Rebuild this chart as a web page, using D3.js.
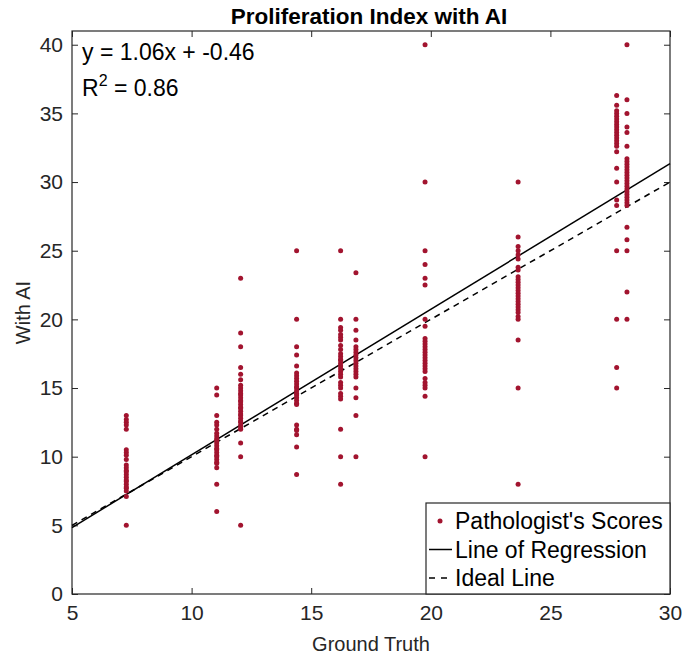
<!DOCTYPE html>
<html>
<head>
    <title>Proliferation Index with AI</title>
    <style>
        body { margin: 0; background: #fff; font-family: "Liberation Sans", Arial, sans-serif; }
        svg text { font-family: "Liberation Sans", Arial, sans-serif; }
    </style>
</head>
<body>
    <svg id="chart" width="698" height="661"></svg>

    <script src="https://d3js.org/d3.v7.min.js"></script>
    <script>
        // ground truth value of each case (one column of dots per case)
        const groundTruth = [7.27, 11.05, 12.05, 14.39, 16.23, 16.87, 19.76, 23.65, 27.77, 28.2];

        // pathologist scores with AI, per case
        const scores = [
            [13, 12.7, 12.5, 12.3, 12, 10.5, 10.3, 10.1, 9.8, 9.4, 9.2, 9.0, 8.9, 8.7, 8.5, 8.3, 8.2, 8.0, 7.8, 7.7, 7.5, 7.1, 5],
            [15, 14.5, 13, 12.5, 12.3, 12, 11.7, 11.5, 11.3, 11.2, 11.0, 10.8, 10.6, 10.5, 10.3, 10.1, 10.0, 9.8, 9.6, 9.5, 9.2, 8, 6],
            [23, 19, 18, 16.5, 16, 15.6, 15.2, 15, 14.8, 14.6, 14.5, 14.3, 14.1, 14, 13.8, 13.6, 13.5, 13.3, 13.1, 13, 12.8, 12.6, 12.5, 12.3, 12.1, 12, 11, 10, 5],
            [25, 20, 18, 17.4, 16.6, 16.1, 15.9, 15.7, 15.5, 15.3, 15.1, 15, 14.8, 14.6, 14.5, 14.3, 14.1, 13.9, 13.8, 12.3, 12, 11.9, 11.6, 10.7, 8.7],
            [25, 20, 19.4, 19.2, 18.9, 18.7, 18.5, 18.1, 17.8, 17.5, 17.3, 17.1, 17, 16.8, 16.6, 16.4, 16.2, 16, 15.8, 15.4, 15.2, 15, 14.6, 14.4, 14.2, 12, 10, 8],
            [23.4, 20, 19.2, 18.5, 18, 17.8, 17.6, 17.4, 17.2, 17, 16.8, 16.6, 16.4, 16.2, 16, 15.8, 15, 14.3, 13, 10],
            [40, 30, 25, 24, 23, 22.5, 20, 19.5, 18.6, 18.4, 18.2, 18, 17.8, 17.6, 17.4, 17.2, 17, 16.8, 16.6, 16.4, 16.2, 15.7, 15.4, 15.2, 15, 14.4, 10],
            [30, 26, 25.3, 25, 24.7, 24.4, 23.8, 23.6, 23.1, 22.9, 22.7, 22.5, 22.3, 22.1, 21.9, 21.7, 21.5, 21.3, 21.1, 20.9, 20.7, 20.5, 20.2, 20, 18.5, 15, 8],
            [36.3, 35.6, 35.2, 35, 34.8, 34.6, 34.4, 34.2, 34, 33.8, 33.6, 33.4, 33.2, 33, 32.8, 32.6, 32.2, 31, 30, 28.7, 28.3, 25, 20, 16.5, 15],
            [40, 36, 35, 34, 33.6, 32.6, 31.7, 31.5, 31.3, 31.1, 30.9, 30.7, 30.5, 30.3, 30.1, 29.9, 29.7, 29.5, 29.3, 29.1, 28.9, 28.7, 28.5, 28.3, 26.7, 25.8, 25, 22, 20]
        ];

        const slope = 1.06, intercept = -0.46, r2 = 0.86;
        const xTicks = [5, 10, 15, 20, 25, 30];
        const yTicks = [0, 5, 10, 15, 20, 25, 30, 35, 40];
        const legendLabels = ["Pathologist's Scores", "Line of Regression", "Ideal Line"];

        const red = "#A2142F", axisCol = "#262626";
        const plotL = 72, plotR = 670, plotT = 31, plotB = 594;

        const svg = d3.select("#chart");
        const x = d3.scaleLinear().domain([5, 30]).range([plotL, plotR]);
        const y = d3.scaleLinear().domain([0, 41]).range([plotB, plotT]);

        const points = [];
        groundTruth.forEach((g, i) => scores[i].forEach(s => points.push({ g: g, s: s })));

        // axes (ticks point inward, box on)
        const tick = 6;
        svg.append("g").attr("transform", `translate(0,${plotB})`)
            .call(d3.axisBottom(x).tickValues(xTicks).tickSizeInner(-tick).tickSizeOuter(0).tickPadding(11))
            .call(g => g.selectAll("text").attr("font-size", 21).attr("fill", axisCol));
        svg.append("g").attr("transform", `translate(${plotL},0)`)
            .call(d3.axisLeft(y).tickValues(yTicks).tickSizeInner(-tick).tickSizeOuter(0).tickPadding(9))
            .call(g => g.selectAll("text").attr("font-size", 21).attr("fill", axisCol));
        svg.append("g").attr("transform", `translate(0,${plotT})`)
            .call(d3.axisTop(x).tickValues(xTicks).tickSizeInner(-tick).tickSizeOuter(0).tickFormat(""));
        svg.append("g").attr("transform", `translate(${plotR},0)`)
            .call(d3.axisRight(y).tickValues(yTicks).tickSizeInner(-tick).tickSizeOuter(0).tickFormat(""));
        svg.selectAll(".tick line").attr("stroke", axisCol);
        svg.selectAll(".domain").remove();
        svg.append("rect")
            .attr("x", plotL).attr("y", plotT)
            .attr("width", plotR - plotL).attr("height", plotB - plotT)
            .attr("fill", "none").attr("stroke", axisCol).attr("stroke-width", 1.2);

        // ideal and regression lines
        svg.append("line")
            .attr("x1", x(5)).attr("y1", y(5))
            .attr("x2", x(30)).attr("y2", y(30))
            .attr("stroke", "#000").attr("stroke-width", 1.5).attr("stroke-dasharray", "6,5");
        svg.append("line")
            .attr("x1", x(5)).attr("y1", y(slope * 5 + intercept))
            .attr("x2", x(30)).attr("y2", y(slope * 30 + intercept))
            .attr("stroke", "#000").attr("stroke-width", 1.5);

        // dots
        svg.append("g").selectAll("circle")
            .data(points)
            .join("circle")
            .attr("cx", d => x(d.g))
            .attr("cy", d => y(d.s))
            .attr("r", 2.5)
            .attr("fill", red);

        // equation text
        svg.append("text").attr("x", 82).attr("y", 60)
            .attr("font-size", 23).attr("fill", "#000")
            .text(`y = ${slope.toFixed(2)}x + ${intercept.toFixed(2)}`);
        const rt = svg.append("text").attr("x", 82).attr("y", 96)
            .attr("font-size", 23).attr("fill", "#000");
        rt.append("tspan").text("R");
        rt.append("tspan").attr("dy", -10).attr("font-size", 16).text("2");
        rt.append("tspan").attr("dy", 10).text(` = ${r2.toFixed(2)}`);

        // title and axis labels
        svg.append("text").attr("x", (plotL + plotR) / 2 - 2).attr("y", 24)
            .attr("text-anchor", "middle").attr("font-size", 22.5).attr("font-weight", "bold")
            .attr("fill", "#000").text("Proliferation Index with AI");
        svg.append("text").attr("x", (plotL + plotR) / 2).attr("y", 651)
            .attr("text-anchor", "middle").attr("font-size", 20)
            .attr("fill", axisCol).text("Ground Truth");
        svg.append("text")
            .attr("transform", `translate(30,${(plotT + plotB) / 2}) rotate(-90)`)
            .attr("text-anchor", "middle").attr("font-size", 20)
            .attr("fill", axisCol).text("With AI");

        // legend
        const lg = svg.append("g");
        lg.append("rect")
            .attr("x", 426).attr("y", 503).attr("width", plotR - 426).attr("height", plotB - 503)
            .attr("fill", "#fff").attr("stroke", axisCol).attr("stroke-width", 1.2);
        legendLabels.forEach((lab, i) => {
            const cy = 521 + i * 28.5;
            if (i === 0) {
                lg.append("circle").attr("cx", 440).attr("cy", cy).attr("r", 2.5).attr("fill", red);
            } else {
                lg.append("line").attr("x1", 429).attr("x2", 452).attr("y1", cy).attr("y2", cy)
                    .attr("stroke", "#000").attr("stroke-width", 1.5)
                    .attr("stroke-dasharray", i === 2 ? "6,6" : null);
            }
            lg.append("text").attr("x", 455).attr("y", cy + 8)
                .attr("font-size", 23).attr("fill", "#000").text(lab);
        });
    </script>
</body>
</html>
